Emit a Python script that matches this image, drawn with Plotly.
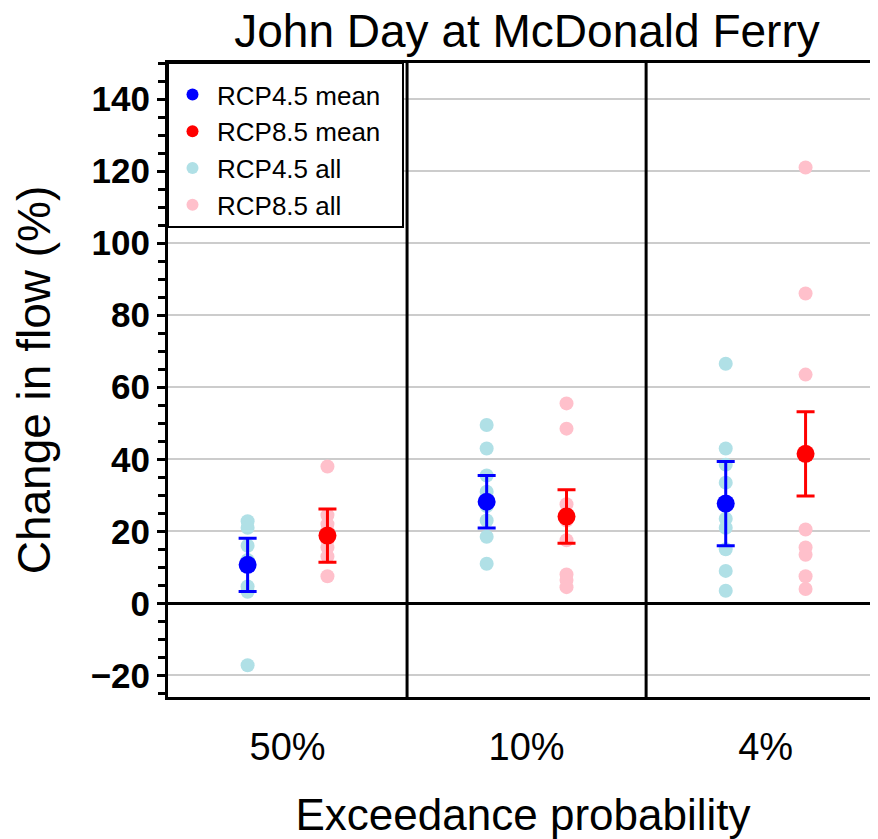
import plotly.graph_objects as go

FONT = "Liberation Sans, Arial, Helvetica, sans-serif"
BLUE = "#0000FF"
RED = "#FF0000"
LIGHT_BLUE = "#B0E0E6"
PINK = "#FFC0CB"

# exceedance probability categories
categories = ["50%", "10%", "4%"]

# individual model runs (change in flow, %)
rcp45_all_50 = [22.8, 21.0, 16.0, 12.0, 4.7, 3.2, -17.2]
rcp45_all_10 = [49.5, 43.0, 35.5, 31.0, 27.0, 23.0, 18.5, 11.0]
rcp45_all_4 = [66.5, 43.0, 38.5, 33.5, 23.5, 21.0, 15.0, 9.0, 3.5]

rcp85_all_50 = [38.0, 24.5, 22.0, 20.0, 17.5, 15.5, 13.0, 7.5]
rcp85_all_10 = [55.5, 48.5, 27.5, 23.0, 17.5, 8.0, 6.5, 4.5]
rcp85_all_4 = [121.0, 86.0, 63.5, 20.5, 15.5, 13.5, 7.5, 4.0]

# ensemble means and error bar half-widths
rcp45_mean = [10.7, 28.2, 27.7]
rcp45_err = [7.4, 7.3, 11.7]
rcp85_mean = [18.8, 24.1, 41.5]
rcp85_err = [7.4, 7.4, 11.7]

OFFSET = 0.167  # horizontal shift of each scenario inside a category

# page body adds an 8px margin, so the figure is slightly smaller than the window
W, H = 870, 831
MARGIN = dict(l=160, r=0, t=55, b=142)
PLOT_W = W - MARGIN["l"] - MARGIN["r"]
PLOT_H = H - MARGIN["t"] - MARGIN["b"]


def spread(groups, shift):
    """Flatten per-category lists into x/y arrays."""
    xs, ys = [], []
    for i, vals in enumerate(groups):
        xs += [i + shift] * len(vals)
        ys += vals
    return xs, ys


fig = go.Figure()

x45, y45 = spread([rcp45_all_50, rcp45_all_10, rcp45_all_4], -OFFSET)
x85, y85 = spread([rcp85_all_50, rcp85_all_10, rcp85_all_4], OFFSET)

fig.add_trace(go.Scatter(x=x45, y=y45, mode="markers", showlegend=False,
                         marker=dict(color=LIGHT_BLUE, size=14)))
fig.add_trace(go.Scatter(x=x85, y=y85, mode="markers", showlegend=False,
                         marker=dict(color=PINK, size=14)))

idx = list(range(len(categories)))
fig.add_trace(go.Scatter(
    x=[i - OFFSET for i in idx], y=rcp45_mean, mode="markers", showlegend=False,
    marker=dict(color=BLUE, size=18),
    error_y=dict(type="data", array=rcp45_err, color=BLUE, thickness=3, width=9),
))
fig.add_trace(go.Scatter(
    x=[i + OFFSET for i in idx], y=rcp85_mean, mode="markers", showlegend=False,
    marker=dict(color=RED, size=18),
    error_y=dict(type="data", array=rcp85_err, color=RED, thickness=3, width=9),
))

# legend-only entries (smaller symbols like the original)
for name, col in [("RCP4.5 mean", BLUE), ("RCP8.5 mean", RED),
                  ("RCP4.5 all", LIGHT_BLUE), ("RCP8.5 all", PINK)]:
    fig.add_trace(go.Scatter(x=[None], y=[None], mode="markers", name=name,
                             marker=dict(color=col, size=12)))

# category separators
for xv in [0.5, 1.5]:
    fig.add_shape(type="line", xref="x", yref="paper", x0=xv, x1=xv, y0=0, y1=1,
                  line=dict(color="black", width=3))

# legend frame drawn as a box so its size matches the original
fig.add_shape(type="rect", xref="paper", yref="paper",
              x0=0, x1=235 / PLOT_W, y0=1 - 164 / PLOT_H, y1=1,
              line=dict(color="black", width=2), fillcolor="white", layer="above")

fig.update_xaxes(
    range=[-0.5, 2.47],
    automargin=False,
    tickvals=idx,
    ticktext=categories,
    ticks="",
    showgrid=False,
    zeroline=False,
    showline=True,
    linecolor="black",
    linewidth=3,
    mirror=True,
    tickfont=dict(family=FONT, size=38, color="black"),
    ticklabelstandoff=14,
    title=dict(text="Exceedance probability", font=dict(family=FONT, size=44, color="black"),
               standoff=42),
)
fig.update_yaxes(
    range=[-26, 150],
    automargin=False,
    tick0=0,
    dtick=20,
    ticks="outside",
    ticklen=8,
    tickwidth=2.5,
    tickcolor="black",
    minor=dict(dtick=5, ticks="outside", ticklen=7, tickwidth=2.5, tickcolor="black",
               showgrid=False),
    showgrid=True,
    gridcolor="#cccccc",
    gridwidth=1.5,
    zeroline=True,
    zerolinecolor="black",
    zerolinewidth=3,
    showline=True,
    linecolor="black",
    linewidth=3,
    tickfont=dict(family=FONT, size=35, color="black", weight="bold"),
    title=dict(text="Change in flow (%)", font=dict(family=FONT, size=46, color="black"),
               standoff=26),
)

fig.update_layout(
    width=W,
    height=H,
    plot_bgcolor="white",
    paper_bgcolor="white",
    margin=MARGIN,
    title=dict(text="John Day at McDonald Ferry", x=519 / W, xanchor="center",
               y=1 - 23 / H, yanchor="middle", yref="container",
               font=dict(family=FONT, size=46, color="black")),
    legend=dict(x=0, y=1 - 8 / PLOT_H, xanchor="left", yanchor="top",
                bgcolor="rgba(0,0,0,0)", borderwidth=0, itemwidth=39,
                font=dict(family=FONT, size=26, color="black"),
                tracegroupgap=0),
)

fig.write_html("out.html")
